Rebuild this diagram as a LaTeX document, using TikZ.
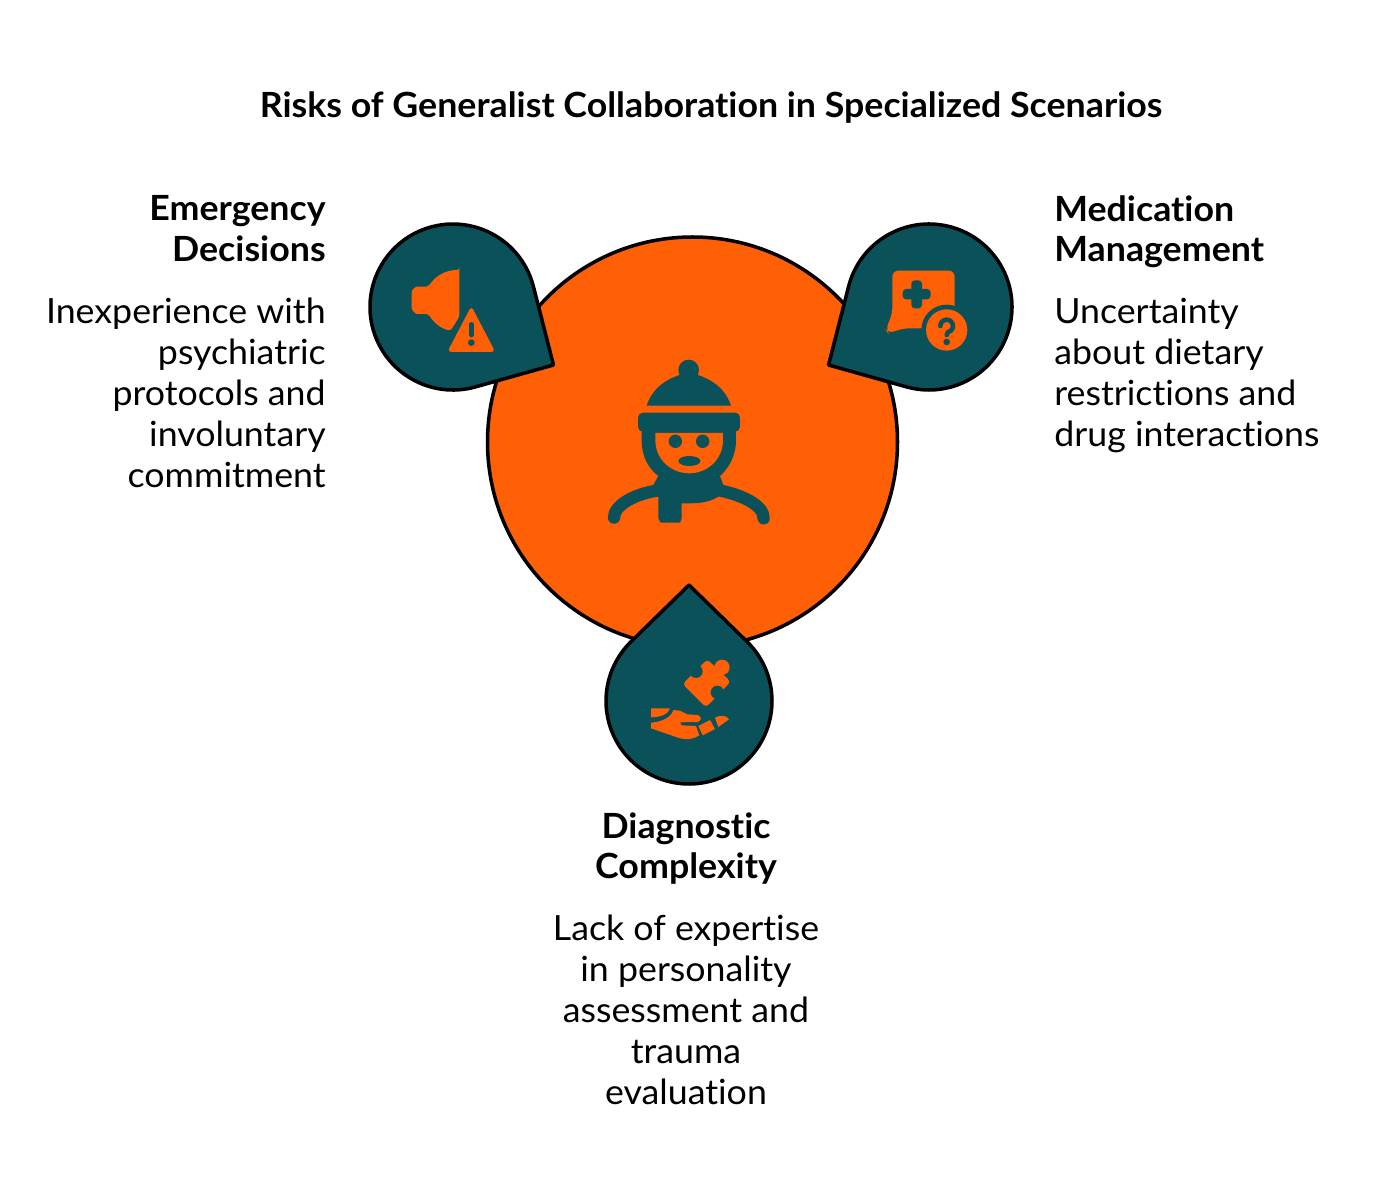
\documentclass[tikz,border=0pt]{standalone}
\usepackage{fontspec}
\usepackage{tikz}
\setmainfont[FakeStretch=1.03,Ligatures=NoCommon]{Lato}
\usetikzlibrary{positioning,calc}
\definecolor{riskorange}{RGB}{255,95,5}
\definecolor{riskteal}{RGB}{11,81,89}
\begin{document}
\begin{tikzpicture}[x=0.02cm, y=-0.02cm]
\tikzset{
  heading/.style={inner sep=0pt, font=\fontsize{19.75}{23.24}\selectfont\bfseries},
  bodytext/.style={inner sep=0pt, font=\fontsize{19.75}{23.24}\selectfont},
  iconfill/.style={fill=riskorange, draw=none},
  iconcut/.style={fill=riskteal, draw=none},
  zoomed/.style={x=0.00667cm, y=-0.00667cm}
}
% Teardrop: {centre x}{centre y}{angle of the tip}
\newcommand{\mydrop}[3]{%
  \fill[riskteal, draw=black, line width=2pt, line join=round]
    ($(#1,#2)+(#3:116)$) -- ($(#1,#2)+(#3+44.3:83)$)
    arc[start angle=#3+44.3, delta angle=271.4, radius=83] -- cycle;
}
\useasboundingbox (0,0) rectangle (1380,1193);
% main circle
\fill[riskorange, draw=black, line width=2pt] (692.5,442) circle[radius=205];
\mydrop{453}{307}{30}
\mydrop{929}{307}{150}
\mydrop{689}{701}{270}
% person
\begin{scope}[shift={(590,340)}, zoomed, riskteal]
\fill (296,90) circle[radius=31];
\fill (170,197) .. controls (185,150) and (225,112) .. (296,98) .. controls (367,112) and (408,150) .. (423,197) -- cycle;
\fill (155,260) -- (438,260) -- (438,300) .. controls (438,350) and (415,385) .. (390,408) -- (400,435) -- (385,470) .. controls (350,492) and (310,490) .. (275,490) -- (275,535) -- (270,548) -- (212,548) -- (205,535) -- (205,470) -- (190,435) -- (205,408) .. controls (175,385) and (155,350) .. (155,300) -- cycle;
\fill[rounded corners=2.8pt] (144,218) rectangle (450,275);
\fill[riskorange] (196,279) -- (399,279) -- (399,300) .. controls (399,360) and (350,400) .. (298,400) .. controls (245,400) and (196,360) .. (196,300) -- cycle;
\fill (256,304) circle[radius=20];
\fill (338,304) circle[radius=20];
\fill (298,363) circle[x radius=33, y radius=15];
\draw[line width=7pt, line cap=round] (72,533) .. controls (72,495) and (135,462) .. (200,452);
\draw[line width=7pt, line cap=round] (521,535) .. controls (521,495) and (455,465) .. (392,452);
\end{scope}
% speaker with warning sign
\begin{scope}[shift={(360,220)}, zoomed]
\fill[iconfill, rounded corners=1.5pt] (298,150) -- (298,290) -- (272,332) .. controls (240,325) and (220,305) .. (205,282) -- (180,282) .. controls (165,282) and (155,270) .. (155,255) -- (155,225) .. controls (155,210) and (165,200) .. (180,200) -- (205,200) .. controls (225,170) and (255,150) .. (298,150) -- cycle;
\fill[iconfill, rounded corners=2.3pt] (334,258) -- (406,396) -- (262,396) -- cycle;
\draw[riskteal, line width=2.6pt, line cap=round] (334,313) -- (334,345);
\fill[iconcut] (334,368) circle[radius=10];
\end{scope}
% speech bubble with question mark
\begin{scope}[shift={(820,220)}, zoomed]
\fill[iconfill, rounded corners=3.4pt] (217,152) -- (404,152) -- (404,325) -- (250,325) -- (205,340) -- (197,330) -- (217,280) -- cycle;
\fill[iconcut] (380,330) circle[radius=76];
\fill[iconfill] (380,330) circle[radius=62];
\fill[iconcut, rounded corners=2pt] (248,207) rectangle (332,238);
\fill[iconcut, rounded corners=2pt] (274,181) rectangle (306,265);
\draw[riskteal, line width=2.6pt, line cap=round] (361,318) arc[start angle=180, delta angle=225, radius=19] .. controls (385,335) and (380,338) .. (380,345);
\fill[iconcut] (380,366) circle[radius=10];
\end{scope}
% hand with puzzle piece
\begin{scope}[shift={(600,580)}, zoomed]
\fill[iconfill, rounded corners=2pt] (248,312) -- (322,238) -- (392,305) -- (318,382) -- cycle;
\fill[iconfill] (366,262) circle[radius=23];
\fill[iconcut] (288,274) circle[radius=20];
\fill[iconcut] (352,337) circle[radius=20];
\fill[iconfill] (153,385) -- (210,385) .. controls (205,403) and (180,412) .. (153,412) -- cycle;
\fill[iconfill] (153,428) .. controls (190,425) and (215,410) .. (220,390) -- (240,392) -- (262,403) -- (292,405) .. controls (306,408) and (306,424) .. (292,426) -- (240,427) -- (245,436) -- (288,438) -- (298,466) .. controls (280,478) and (262,480) .. (240,475) -- (153,445) -- cycle;
\fill[iconfill] (295,438) -- (330,420) -- (345,447) -- (308,466) -- cycle;
\fill[iconfill] (345,413) .. controls (360,405) and (380,405) .. (387,418) -- (355,441) -- cycle;
\end{scope}
% title
\node[heading, anchor=base] (title) at (711,118) {Risks of Generalist Collaboration in Specialized Scenarios};
% left text
\node[heading, align=right, anchor=north east] (headL) at (326,195) {Emergency\\Decisions};
\node[bodytext, align=right, anchor=north east] (bodyL) at (326,298) {Inexperience with\\psychiatric\\protocols and\\involuntary\\commitment};
% right text
\node[heading, align=left, anchor=north west] (headR) at (1054,195) {Medication\\Management};
\node[bodytext, align=left, anchor=north west] (bodyR) at (1054,298) {Uncertainty\\about dietary\\restrictions and\\drug interactions};
% bottom text
\node[heading, align=center, anchor=north] (headB) at (686,812) {Diagnostic\\Complexity};
\node[bodytext, align=center, anchor=north] (bodyB) at (686,915) {Lack of expertise\\in personality\\assessment and\\trauma\\evaluation};
\end{tikzpicture}
\end{document}
